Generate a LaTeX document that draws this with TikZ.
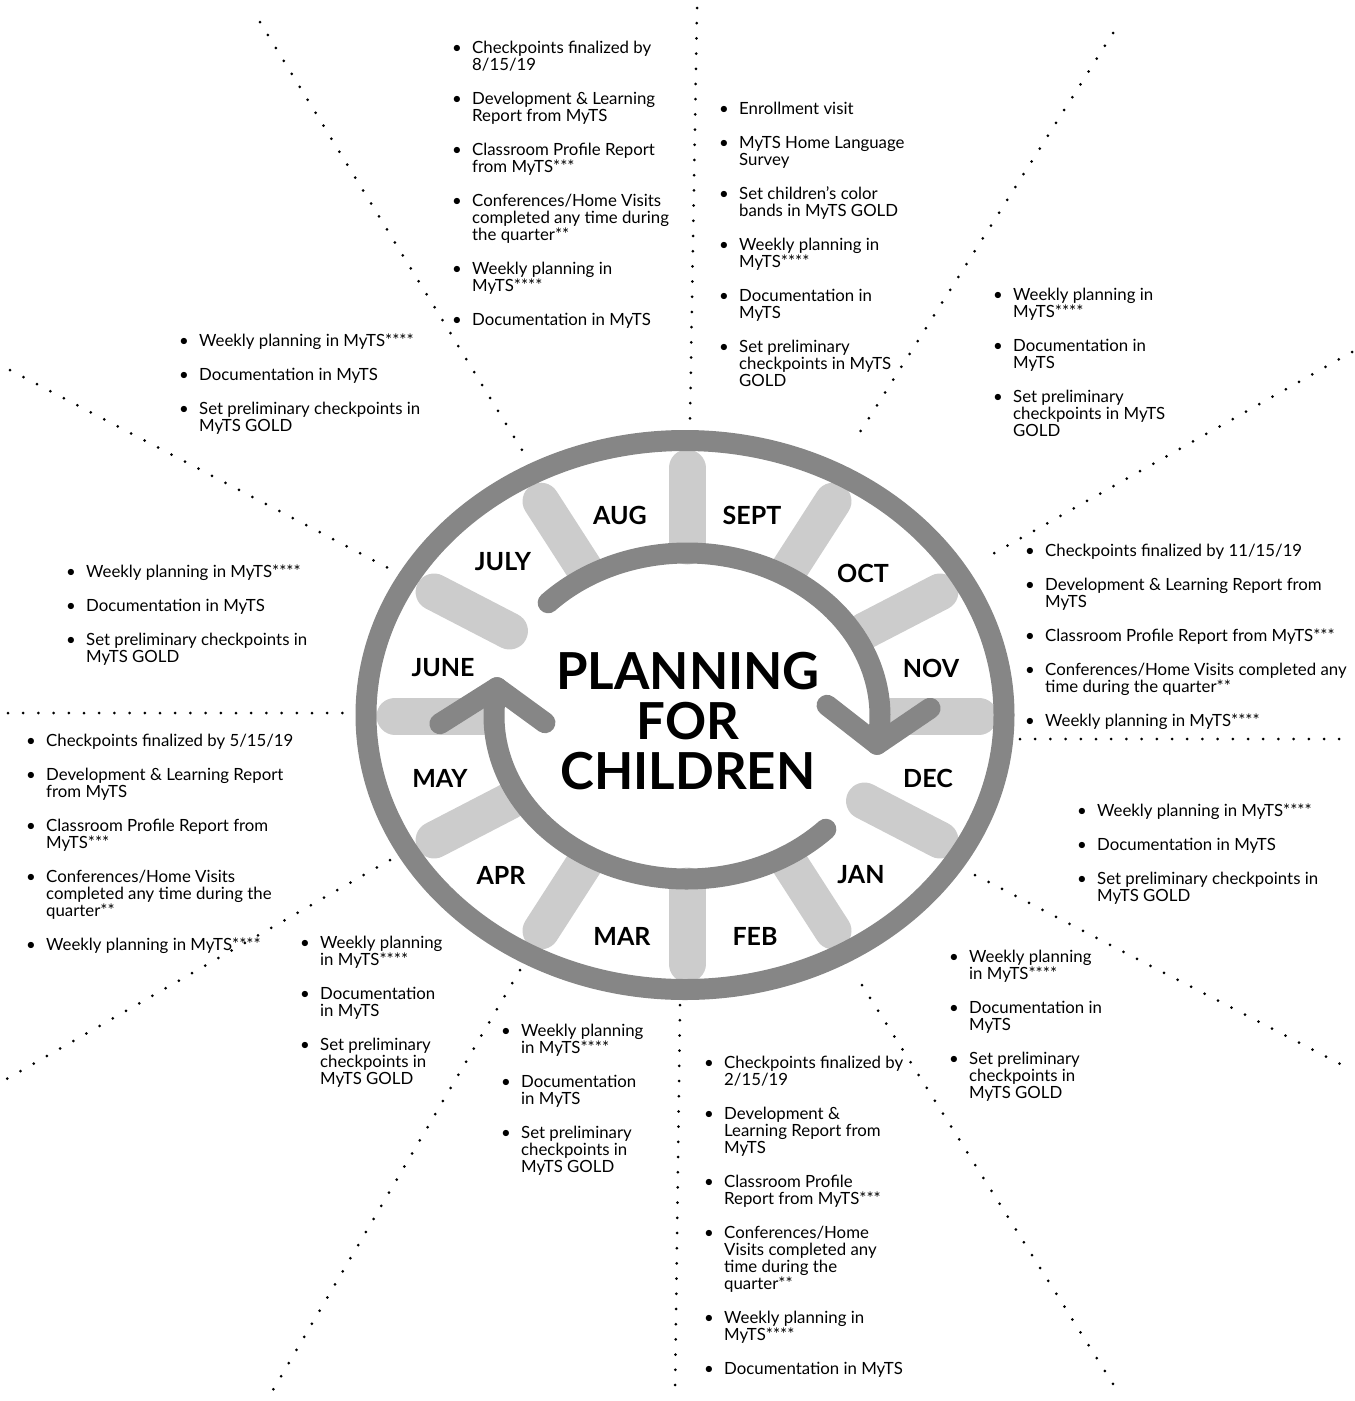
\documentclass[tikz,border=0pt]{standalone}
\usepackage{fontspec}
\setmainfont{Lato}
\usetikzlibrary{calc}
\definecolor{ringgray}{RGB}{134,134,134}
\definecolor{spokegray}{RGB}{204,204,204}
\tikzset{
  ring/.style={draw=ringgray, line width=21pt},
  spokebar/.style={draw=spokegray, line width=37pt, line cap=round},
  cycarrow/.style={draw=ringgray, line width=21pt, line cap=round, line join=round},
  dotline/.style={line width=3pt, line cap=round, dash pattern=on 0pt off 15.2pt},
  month/.style={font=\fontsize{25}{25}\selectfont\bfseries, inner sep=0pt},
  titletext/.style={font=\fontsize{51}{50}\selectfont\bfseries, align=center, inner sep=0pt},
  lst/.style={anchor=base west, inner sep=0pt, font=\fontsize{16.8}{17}\selectfont},
}
\newcommand{\bline}[1]{\hbox{\llap{\makebox[20pt][l]{\textbullet}}#1}}
\newcommand{\pline}[1]{\hbox{#1}}
\newcommand{\gapv}{\vskip17pt}
\newcommand{\blk}[1]{\vtop{\baselineskip=17pt\lineskiplimit=-\maxdimen\lineskip=0pt #1}}
\begin{document}
\begin{tikzpicture}[x=1pt,y=1pt]
\useasboundingbox (0,0) rectangle (1355,-1401);
\coordinate (c) at (687,-716);

% spokes
\foreach \a in {0,30,...,330}{
  \draw[spokebar] ($(c)+(\a:292 and 248)$) -- ($(c)+(\a:205 and 170)$);
}
% outer ring
\draw[ring] (685,-715) ellipse[x radius=319pt, y radius=274.5pt];

% cycle arrows
\coordinate (a1s) at ($(c)+(136:193 and 163)$);
\coordinate (a1t) at ($(c)+(-10:193 and 163)$);
\coordinate (a2s) at ($(c)+(316:193 and 163)$);
\coordinate (a2t) at ($(c)+(170:193 and 163)$);
\draw[cycarrow] (a1s) arc[start angle=136, end angle=-10, x radius=193pt, y radius=163pt];
\draw[cycarrow] ($(a1t)+(-50,39)$) -- (a1t) -- ($(a1t)+(53,36)$);
\draw[cycarrow] (a2s) arc[start angle=316, end angle=170, x radius=193pt, y radius=163pt];
\draw[cycarrow] ($(a2t)+(-57,-36)$) -- (a2t) -- ($(a2t)+(48,-35)$);

% title
\node[titletext] (title) at (688,-721.5) {PLANNING\\FOR\\CHILDREN};

% months
\node[month] (aug) at (620,-515) {AUG};
\node[month] (sept) at (752,-515) {SEPT};
\node[month] (july) at (503,-562) {JULY};
\node[month] (oct) at (863,-573) {OCT};
\node[month] (june) at (443,-668) {JUNE};
\node[month] (nov) at (931,-668) {NOV};
\node[month] (may) at (440,-778) {MAY};
\node[month] (dec) at (928,-778) {DEC};
\node[month] (apr) at (501,-875) {APR};
\node[month] (jan) at (861,-875) {JAN};
\node[month] (mar) at (622,-936) {MAR};
\node[month] (feb) at (755,-936) {FEB};

% dotted separators
\draw[dotline] (697,-8) -- (690,-420);
\draw[dotline] (1113,-33) -- (855,-440);
\draw[dotline] (1352,-352) -- (982,-560);
\draw[dotline] (1020,-739) -- (1340,-739);
\draw[dotline] (975,-875) -- (1352,-1070);
\draw[dotline] (862,-985) -- (1120,-1395);
\draw[dotline] (680,-1005) -- (675,-1395);
\draw[dotline] (520,-970) -- (270,-1395);
\draw[dotline] (390,-860) -- (5,-1080);
\draw[dotline] (8,-713) -- (350,-713);
\draw[dotline] (10,-370) -- (392,-570);
\draw[dotline] (260,-22) -- (525,-455);

% text blocks
\node[lst] (blkaug) at (472,-53) {\blk{%
\bline{Checkpoints finalized by}\pline{8/15/19}\gapv
\bline{Development \& Learning}\pline{Report from MyTS}\gapv
\bline{Classroom Profile Report}\pline{from MyTS***}\gapv
\bline{Conferences/Home Visits}\pline{completed any time during}\pline{the quarter**}\gapv
\bline{Weekly planning in}\pline{MyTS****}\gapv
\bline{Documentation in MyTS}}};

\node[lst] (blksept) at (739,-114) {\blk{%
\bline{Enrollment visit}\gapv
\bline{MyTS Home Language}\pline{Survey}\gapv
\bline{Set children's color}\pline{bands in MyTS GOLD}\gapv
\bline{Weekly planning in}\pline{MyTS****}\gapv
\bline{Documentation in}\pline{MyTS}\gapv
\bline{Set preliminary}\pline{checkpoints in MyTS}\pline{GOLD}}};

\node[lst] (blkoct) at (1013,-300) {\blk{%
\bline{Weekly planning in}\pline{MyTS****}\gapv
\bline{Documentation in}\pline{MyTS}\gapv
\bline{Set preliminary}\pline{checkpoints in MyTS}\pline{GOLD}}};

\node[lst] (blknov) at (1045,-556) {\blk{%
\bline{Checkpoints finalized by 11/15/19}\gapv
\bline{Development \& Learning Report from}\pline{MyTS}\gapv
\bline{Classroom Profile Report from MyTS***}\gapv
\bline{Conferences/Home Visits completed any}\pline{time during the quarter**}\gapv
\bline{Weekly planning in MyTS****}}};

\node[lst] (blkdec) at (1097,-816) {\blk{%
\bline{Weekly planning in MyTS****}\gapv
\bline{Documentation in MyTS}\gapv
\bline{Set preliminary checkpoints in}\pline{MyTS GOLD}}};

\node[lst] (blkjan) at (969,-962) {\blk{%
\bline{Weekly planning}\pline{in MyTS****}\gapv
\bline{Documentation in}\pline{MyTS}\gapv
\bline{Set preliminary}\pline{checkpoints in}\pline{MyTS GOLD}}};

\node[lst] (blkfeb) at (724,-1068) {\blk{%
\bline{Checkpoints finalized by}\pline{2/15/19}\gapv
\bline{Development \&}\pline{Learning Report from}\pline{MyTS}\gapv
\bline{Classroom Profile}\pline{Report from MyTS***}\gapv
\bline{Conferences/Home}\pline{Visits completed any}\pline{time during the}\pline{quarter**}\gapv
\bline{Weekly planning in}\pline{MyTS****}\gapv
\bline{Documentation in MyTS}}};

\node[lst] (blkmar) at (521,-1036) {\blk{%
\bline{Weekly planning}\pline{in MyTS****}\gapv
\bline{Documentation}\pline{in MyTS}\gapv
\bline{Set preliminary}\pline{checkpoints in}\pline{MyTS GOLD}}};

\node[lst] (blkapr) at (320,-948) {\blk{%
\bline{Weekly planning}\pline{in MyTS****}\gapv
\bline{Documentation}\pline{in MyTS}\gapv
\bline{Set preliminary}\pline{checkpoints in}\pline{MyTS GOLD}}};

\node[lst] (blkmay) at (46,-746) {\blk{%
\bline{Checkpoints finalized by 5/15/19}\gapv
\bline{Development \& Learning Report}\pline{from MyTS}\gapv
\bline{Classroom Profile Report from}\pline{MyTS***}\gapv
\bline{Conferences/Home Visits}\pline{completed any time during the}\pline{quarter**}\gapv
\bline{Weekly planning in MyTS****}}};

\node[lst] (blkjune) at (86,-577) {\blk{%
\bline{Weekly planning in MyTS****}\gapv
\bline{Documentation in MyTS}\gapv
\bline{Set preliminary checkpoints in}\pline{MyTS GOLD}}};

\node[lst] (blkjuly) at (199,-346) {\blk{%
\bline{Weekly planning in MyTS****}\gapv
\bline{Documentation in MyTS}\gapv
\bline{Set preliminary checkpoints in}\pline{MyTS GOLD}}};
\end{tikzpicture}
\end{document}
